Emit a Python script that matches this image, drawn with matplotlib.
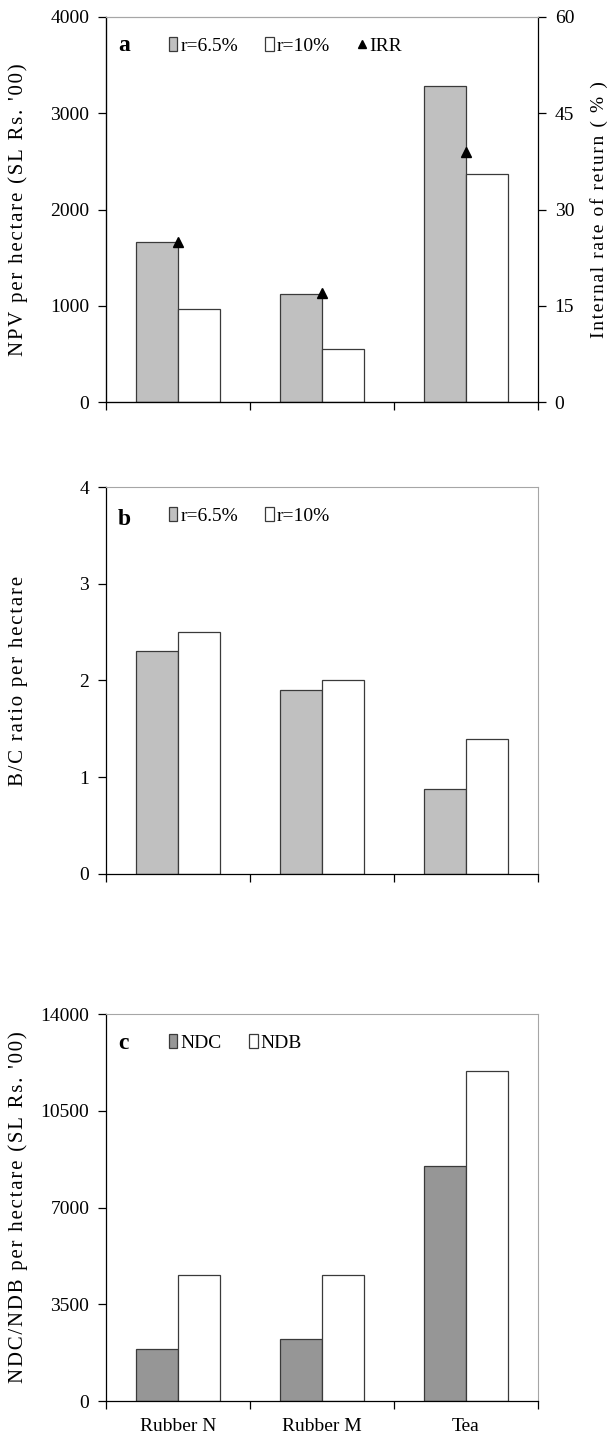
import numpy as np
import matplotlib.pyplot as plt
from matplotlib.lines import Line2D

plt.rcParams['font.family'] = ['Liberation Serif', 'DejaVu Serif']
plt.rcParams['font.size'] = 14

crops = ['Rubber N', 'Rubber M', 'Tea']
npv_65 = [1660, 1125, 3280]
npv_10 = [970, 550, 2370]
irr = [25, 17, 39]
bc_65 = [2.3, 1.9, 0.88]
bc_10 = [2.5, 2.0, 1.4]
ndc = [1870, 2260, 8490]
ndb = [4550, 4550, 11940]

light = '#c0c0c0'
dark = '#969696'
edge = '#3a3a3a'
frame = '#a6a6a6'


def spaced(s):
    # stretch the axis titles a little with hair spaces
    return '\u200a'.join(s)


fig = plt.figure(figsize=(6.14, 14.52), dpi=100)
W = 0.7036
ax_a = fig.add_axes([0.1726, 0.7231, W, 0.2652])
ax_b = fig.add_axes([0.1726, 0.3981, W, 0.2665])
ax_c = fig.add_axes([0.1726, 0.0351, W, 0.2665])

x = np.arange(len(crops))
w = 0.29


def style(ax, ymax, yticks):
    ax.set_xlim(-0.5, 2.5)
    ax.set_ylim(0, ymax)
    ax.set_yticks(yticks)
    ax.set_xticks(np.arange(-0.5, 3, 1))
    ax.set_xticklabels([])
    ax.tick_params(direction='out', length=6, width=0.9, pad=6,
                   labelsize=14, right=False, top=False)
    ax.spines['top'].set_color(frame)
    ax.spines['right'].set_color(frame)
    for s in ['left', 'bottom']:
        ax.spines[s].set_linewidth(0.9)
    ax.yaxis.set_label_coords(-0.18, 0.5)


def legend(ax, handles, labels):
    ax.legend(handles, labels, ncol=len(handles), loc='center left',
              bbox_to_anchor=(0.145, 0.925), frameon=False, fontsize=14,
              handlelength=0.45, handleheight=0.7, handletextpad=0.15,
              columnspacing=1.4, borderaxespad=0, borderpad=0)


# a: NPV bars with IRR on the right axis
b1 = ax_a.bar(x - w / 2, npv_65, w, color=light, edgecolor=edge, linewidth=0.9)
b2 = ax_a.bar(x + w / 2, npv_10, w, color='white', edgecolor=edge, linewidth=0.9)
style(ax_a, 4000, np.arange(0, 4001, 1000))
ax_a.spines['right'].set_visible(False)
ax_a.set_ylabel(spaced("NPV per hectare (SL Rs. '00)"), fontsize=15)
ax2 = ax_a.twinx()
ax2.plot(x, irr, '^', color='black', ms=7)
ax2.set_ylim(0, 60)
ax2.set_yticks(np.arange(0, 61, 15))
ax2.tick_params(direction='out', length=6, width=0.9, pad=6, labelsize=14)
ax2.spines['right'].set_color('black')
ax2.spines['right'].set_linewidth(0.9)
ax2.spines['top'].set_color(frame)
ax2.set_ylabel(spaced('Internal rate of return ( % )'), fontsize=14)
ax2.yaxis.set_label_coords(1.12, 0.5)
irr_h = Line2D([], [], marker='^', color='black', ls='none', ms=6)
legend(ax_a, [b1, b2, irr_h], ['r=6.5%', 'r=10%', 'IRR'])
ax_a.text(0.028, 0.925, 'a', transform=ax_a.transAxes, fontsize=17,
          fontweight='bold', va='center')

# b: benefit/cost ratio
b1 = ax_b.bar(x - w / 2, bc_65, w, color=light, edgecolor=edge, linewidth=0.9)
b2 = ax_b.bar(x + w / 2, bc_10, w, color='white', edgecolor=edge, linewidth=0.9)
style(ax_b, 4, np.arange(0, 5, 1))
ax_b.set_ylabel(spaced('B/C ratio per hectare'), fontsize=15)
legend(ax_b, [b1, b2], ['r=6.5%', 'r=10%'])
ax_b.text(0.028, 0.915, 'b', transform=ax_b.transAxes, fontsize=17,
          fontweight='bold', va='center')

# c: discounted costs and benefits
b1 = ax_c.bar(x - w / 2, ndc, w, color=dark, edgecolor=edge, linewidth=0.9)
b2 = ax_c.bar(x + w / 2, ndb, w, color='white', edgecolor=edge, linewidth=0.9)
style(ax_c, 14000, np.arange(0, 14001, 3500))
ax_c.set_ylabel(spaced("NDC/NDB per hectare (SL Rs. '00)"), fontsize=15)
legend(ax_c, [b1, b2], ['NDC', 'NDB'])
ax_c.text(0.028, 0.925, 'c', transform=ax_c.transAxes, fontsize=17,
          fontweight='bold', va='center')
ax_c.set_xticks(x, minor=True)
ax_c.set_xticklabels(crops, minor=True)
ax_c.tick_params(axis='x', which='minor', length=0, pad=12, labelsize=14)

fig.savefig('out.png', dpi=100)
